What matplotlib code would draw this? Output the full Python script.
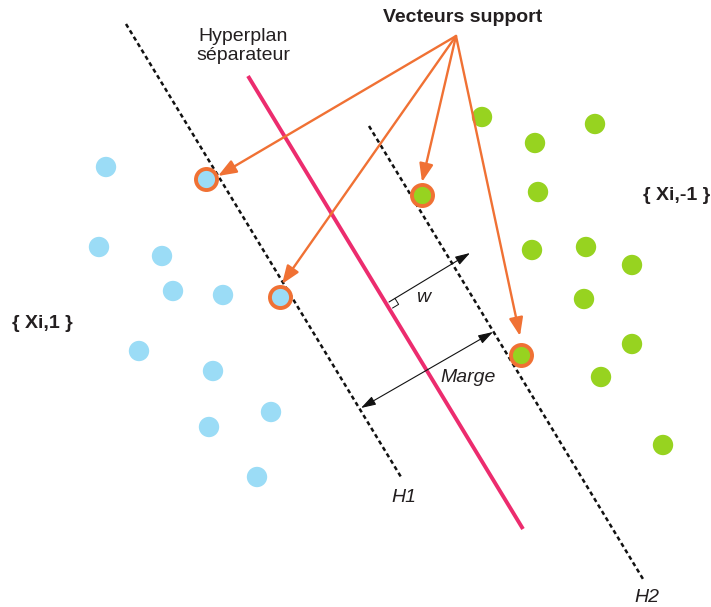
import numpy as np
import matplotlib.pyplot as plt

plt.rcParams['font.family'] = ['Liberation Sans', 'DejaVu Sans']

# Points in picture coordinates (x right, y down)
blue_x = [106, 99, 162, 173, 223, 139, 213, 271, 209, 257]
blue_y = [167, 247, 256, 291, 295, 351, 371, 412, 427, 477]
green_x = [482, 595, 535, 538, 532, 586, 632, 584, 632, 601, 663]
green_y = [117, 124, 143, 192, 250, 247, 265, 299, 344, 377, 445]

# support vectors and where their arrows end
sv_x = [206, 280, 422, 521]
sv_y = [179, 297, 195, 355]
sv_class = ["blue", "blue", "green", "green"]
tip_x = [218, 282, 422, 520]
tip_y = [176, 284, 182, 336]
arrow_src = (456, 36)

# lines: H1, separating hyperplane, H2
h1 = [(126, 24), (401, 477)]
hyper = [(248, 76), (523, 529)]
h2 = [(369, 126), (643, 579)]

# w and margin arrows
w_start, w_end = (389, 302), (470, 253)
m_start, m_end = (361, 408), (493, 332)

BLUE = "#9bdcf6"
GREEN = "#97d320"
ORANGE = "#f07134"
PINK = "#ec2c6e"
TXT = "#231f20"

fig = plt.figure(figsize=(7.11, 6.07), dpi=100)
ax = fig.add_axes([0, 0, 1, 1])
ax.set_xlim(0, 711)
ax.set_ylim(607, 0)
ax.axis("off")

# dashed margin lines
for ln in (h1, h2):
    ax.plot([ln[0][0], ln[1][0]], [ln[0][1], ln[1][1]], color="#111111",
            lw=1.8, ls=(0, (1.7, 1.3)), zorder=2)
ax.plot([hyper[0][0], hyper[1][0]], [hyper[0][1], hyper[1][1]], color=PINK,
        lw=2.8, solid_capstyle="butt", zorder=2)

# points
ax.scatter(blue_x, blue_y, s=215, color=BLUE, edgecolors="none", zorder=3)
ax.scatter(green_x, green_y, s=215, color=GREEN, edgecolors="none", zorder=3)
for x, y, c in zip(sv_x, sv_y, sv_class):
    ax.scatter([x], [y], s=230, color=BLUE if c == "blue" else GREEN,
               edgecolors=ORANGE, linewidths=2.8, zorder=4)

# orange arrows
for tx, ty in zip(tip_x, tip_y):
    ax.annotate("", xy=(tx, ty), xytext=arrow_src,
                arrowprops=dict(arrowstyle="-|>,head_length=1.1,head_width=0.42",
                                color=ORANGE, lw=1.7, shrinkA=0, shrinkB=0),
                zorder=5)

# w arrow and margin arrow
ax.annotate("", xy=w_end, xytext=w_start,
            arrowprops=dict(arrowstyle="-|>,head_length=0.9,head_width=0.28",
                            color="#111111", lw=0.8, shrinkA=0, shrinkB=0))
ax.annotate("", xy=m_end, xytext=m_start,
            arrowprops=dict(arrowstyle="<|-|>,head_length=0.9,head_width=0.28",
                            color="#111111", lw=0.8, shrinkA=0, shrinkB=0))

# right angle marker
u = np.array(hyper[1]) - np.array(hyper[0])
u = u / np.linalg.norm(u)
n = np.array(w_end) - np.array(w_start)
n = n / np.linalg.norm(n)
p = np.array(w_start)
s = 7
sq = np.array([p + s * n, p + s * n + s * u, p + s * u])
ax.plot(sq[:, 0], sq[:, 1], color="#111111", lw=0.7, zorder=3)

# text
FS = 14
ax.text(463, 18, "Vecteurs support", ha="center", va="center",
        fontsize=FS, fontweight="bold", color=TXT)
ax.text(243, 46, "Hyperplan\nséparateur", ha="center", va="center",
        fontsize=FS, color=TXT, linespacing=1.1)
ax.text(42, 324, "{ Xi,1 }", ha="center", va="center",
        fontsize=FS, fontweight="bold", color=TXT)
ax.text(677, 195, "{ Xi,-1 }", ha="center", va="center",
        fontsize=FS, fontweight="bold", color=TXT)
ax.text(423, 297, "w", ha="center", va="center", fontsize=FS,
        style="italic", color=TXT)
ax.text(468, 377, "Marge", ha="center", va="center", fontsize=FS,
        style="italic", color=TXT)
ax.text(404, 498, "H1", ha="center", va="center", fontsize=FS,
        style="italic", color=TXT)
ax.text(647, 597, "H2", ha="center", va="center", fontsize=FS,
        style="italic", color=TXT)

fig.savefig("out.png", dpi=100, facecolor="white")
